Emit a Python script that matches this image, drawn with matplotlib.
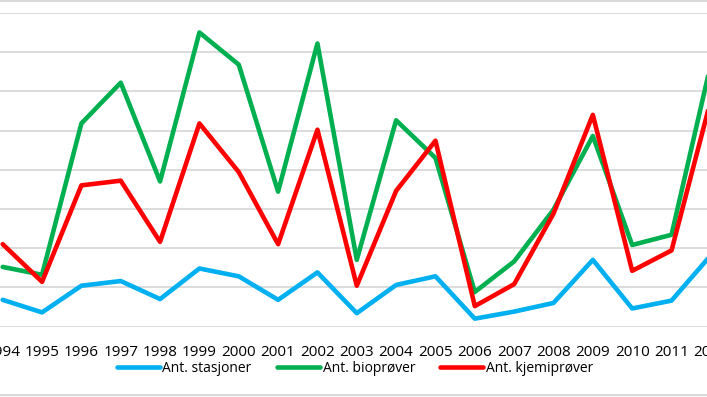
import matplotlib
matplotlib.use("Agg")
import matplotlib.pyplot as plt
from matplotlib.lines import Line2D

# Data (gridline step = 50)
years = list(range(1994, 2013))
stasjoner = [34, 18, 52, 58, 35, 74, 64, 34, 69, 17, 53, 64, 10, 19, 30, 85, 23, 33, 91]
bioprover = [76, 66, 259, 311, 185, 375, 334, 172, 361, 85, 263, 215, 44, 83, 149, 243, 104, 117, 335]
kjemiprover = [105, 57, 180, 186, 108, 259, 197, 105, 251, 52, 173, 237, 26, 54, 144, 270, 71, 97, 289]

series = [
    ("Ant. stasjoner", stasjoner, "#00B0F0"),
    ("Ant. bioprøver", bioprover, "#00B050"),
    ("Ant. kjemiprøver", kjemiprover, "#FF0000"),
]

plt.rcParams['font.family'] = ['Open Sans', 'DejaVu Sans']

fig = plt.figure(figsize=(7.07, 3.97), dpi=100)
# axes reaches past the figure edges, the reference is a cropped chart
ax = fig.add_axes([-16.97 / 707, 70.5 / 397, 747.5 / 707, 313.6 / 397])

for name, vals, col in series:
    ax.plot(years, vals, color=col, lw=3.3, label=name,
            solid_joinstyle='round', solid_capstyle='round')

ax.set_xlim(1993.5, 2012.5)
ax.set_ylim(0, 400)
ax.set_yticks(range(0, 401, 50))
ax.set_xticks(years)
ax.set_xticklabels([str(y) for y in years], fontsize=11, color="#000000")
ax.tick_params(axis='x', length=0, pad=13)
ax.tick_params(axis='y', length=0, labelleft=False)
ax.grid(axis='y', color="#D9D9D9", lw=1.3)
ax.set_axisbelow(True)
for s in ax.spines.values():
    s.set_visible(False)

# chart border remnants at top and bottom
for yy in (1 - 1 / 397, 2 / 397):
    fig.add_artist(Line2D([0, 1], [yy, yy], transform=fig.transFigure,
                          color="#D9D9D9", lw=1.5))

fig.legend(loc='center', bbox_to_anchor=(0.502, 1 - 368 / 397), ncol=3,
           frameon=False, fontsize=10, handlelength=3.1, handletextpad=0.2,
           columnspacing=1.8, borderpad=0)

fig.savefig("out.png", dpi=100)
